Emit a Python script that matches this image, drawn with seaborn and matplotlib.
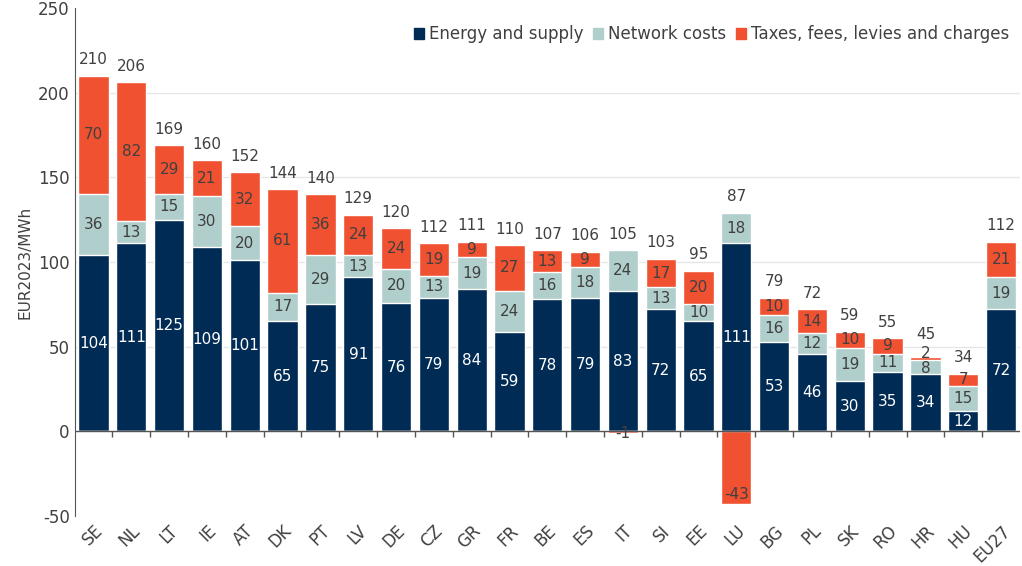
import numpy as np
import pandas as pd
import seaborn as sns
import matplotlib.pyplot as plt
from matplotlib.patches import Patch

countries = ['SE', 'NL', 'LT', 'IE', 'AT', 'DK', 'PT', 'LV', 'DE', 'CZ', 'GR', 'FR', 'BE',
             'ES', 'IT', 'SI', 'EE', 'LU', 'BG', 'PL', 'SK', 'RO', 'HR', 'HU', 'EU27']
energy = [104, 111, 125, 109, 101, 65, 75, 91, 76, 79, 84, 59, 78, 79, 83, 72, 65, 111, 53, 46, 30, 35, 34, 12, 72]
network = [36, 13, 15, 30, 20, 17, 29, 13, 20, 13, 19, 24, 16, 18, 24, 13, 10, 18, 16, 12, 19, 11, 8, 15, 19]
taxes = [70, 82, 29, 21, 32, 61, 36, 24, 24, 19, 9, 27, 13, 9, -1, 17, 20, -43, 10, 14, 10, 9, 2, 7, 21]
totals = [210, 206, 169, 160, 152, 144, 140, 129, 120, 112, 111, 110, 107, 106, 105, 103, 95, 87, 79, 72, 59, 55, 45, 34, 112]

c_energy = '#002b55'
c_network = '#b0cfcc'
c_taxes = '#ef5131'
c_text = '#404040'

df = pd.DataFrame({'country': countries, 'energy': energy, 'network': network, 'taxes': taxes, 'total': totals})
df['en_net'] = df['energy'] + df['network']
df['top'] = df['en_net'] + df['taxes'].clip(lower=0)
df['neg'] = df['taxes'].clip(upper=0)

sns.set_style('white')
plt.rcParams['font.family'] = ['DejaVu Sans']
plt.rcParams['axes.unicode_minus'] = False

fig = plt.figure(figsize=(10.22, 5.66), dpi=100)
ax = fig.add_axes([0.073, 0.088, 0.925, 0.898])

# stacked look by overlapping cumulative bars
sns.barplot(data=df, x='country', y='top', color=c_taxes, saturation=1, width=0.8, ax=ax)
sns.barplot(data=df, x='country', y='en_net', color=c_network, saturation=1, width=0.8, ax=ax)
sns.barplot(data=df, x='country', y='energy', color=c_energy, saturation=1, width=0.8, ax=ax)
sns.barplot(data=df, x='country', y='neg', color=c_taxes, saturation=1, width=0.8, ax=ax)

for i, r in df.iterrows():
    thin = 0 < r['taxes'] <= 3
    ax.text(i, r['energy'] / 2, str(r['energy']), ha='center', va='center', color='white', fontsize=11)
    net_y = r['energy'] + r['network'] / 2 - (1 if thin else 0)
    ax.text(i, net_y, str(r['network']), ha='center', va='center', color=c_text, fontsize=11)
    if thin:
        # thin segment: label pushed slightly above, as in the source
        ax.text(i, r['top'] + 2, str(r['taxes']), ha='center', va='center', color=c_text, fontsize=11)
    elif r['taxes'] > 0:
        ax.text(i, r['en_net'] + r['taxes'] / 2, str(r['taxes']), ha='center', va='center', color=c_text, fontsize=11)
    elif r['taxes'] < -5:
        ax.text(i, r['taxes'] + 6, str(r['taxes']), ha='center', va='center', color=c_text, fontsize=11)
    else:
        ax.text(i, r['taxes'], str(r['taxes']), ha='center', va='center', color=c_text, fontsize=11)
    ax.text(i, r['top'] + (9 if thin else 5), str(r['total']), ha='center', va='bottom', color=c_text, fontsize=11)

ax.set_ylim(-50, 250)
ax.set_xlim(-0.5, len(countries) - 0.5)
ax.set_yticks(range(-50, 251, 50))
for y in [50, 100, 150, 200]:
    ax.axhline(y, color='#e6e6e6', lw=1, zorder=0)
ax.axhline(0, color='#555555', lw=1)
ax.vlines(np.arange(len(countries) - 1) + 0.5, -3, 0, color='#555555', lw=1)

ax.set_xlabel('')
ax.set_ylabel('EUR2023/MWh', fontsize=11, color=c_text)
ax.tick_params(axis='x', length=0, labelsize=12, labelcolor=c_text, pad=4)
ax.tick_params(axis='y', length=0, labelsize=12, labelcolor=c_text)
plt.setp(ax.get_xticklabels(), rotation=45, ha='right', rotation_mode='anchor')

for s in ['top', 'right', 'bottom']:
    ax.spines[s].set_visible(False)
ax.spines['left'].set_color('#555555')

handles = [Patch(color=c_energy), Patch(color=c_network), Patch(color=c_taxes)]
labels = ['Energy and supply', 'Network costs', 'Taxes, fees, levies and charges']
ax.legend(handles, labels, ncol=3, loc='upper right', bbox_to_anchor=(1.005, 0.995), frameon=False,
          fontsize=12, handlelength=0.6, handleheight=0.6, handletextpad=0.3, columnspacing=0.6,
          labelcolor=c_text)

fig.savefig('out.png', dpi=100)
